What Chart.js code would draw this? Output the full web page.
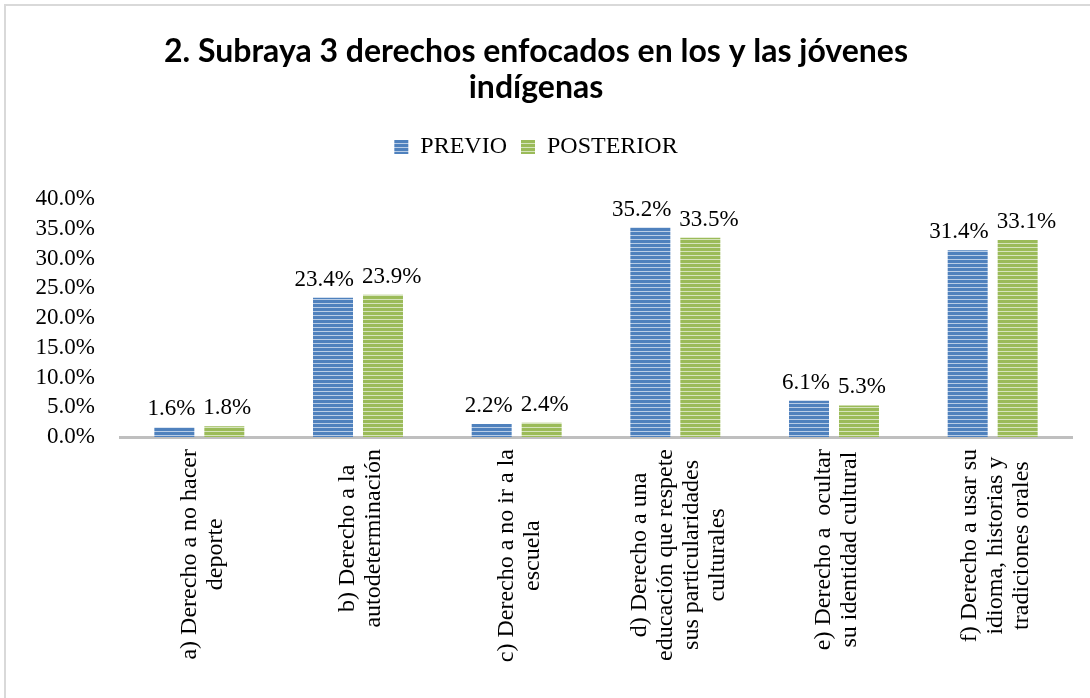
<!DOCTYPE html>
<html>
<head>
<meta charset="utf-8">
<title>Derechos jóvenes indígenas</title>
<script src="https://cdn.jsdelivr.net/npm/chart.js@4.4.1/dist/chart.umd.min.js"></script>
<style>
    html, body { margin: 0; padding: 0; background: #fff; overflow: hidden; }
    #frame { position: absolute; left: 4px; top: 4px; width: 1200px; height: 800px; border: 2px solid #d9d9d9; box-sizing: border-box; }
    #wrap { position: absolute; left: 0; top: 0; width: 1090px; height: 698px; }
</style>
</head>
<body>
<div id="frame"></div>
<div id="wrap"><canvas id="chart1"></canvas></div>
<script>
var categories = [
    ['a) Derecho a no hacer', 'deporte'],
    ['b) Derecho a la', 'autodeterminación'],
    ['c) Derecho a no ir a la', 'escuela'],
    ['d) Derecho a una', 'educación que respete', 'sus particularidades', 'culturales'],
    ['e) Derecho a  ocultar', 'su identidad cultural'],
    ['f) Derecho a usar su', 'idioma, historias y', 'tradiciones orales']
];
var previo = [1.6, 23.4, 2.2, 35.2, 6.1, 31.4];
var posterior = [1.8, 23.9, 2.4, 33.5, 5.3, 33.1];
var yTicks = [0, 5, 10, 15, 20, 25, 30, 35, 40];

var serif = '"Liberation Serif", "Times New Roman", serif';

function stripes(color, light) {
    var c = document.createElement('canvas');
    c.width = 4;
    c.height = 4;
    var g = c.getContext('2d');
    g.fillStyle = color;
    g.fillRect(0, 0, 4, 4);
    g.fillStyle = light;
    g.fillRect(0, 3, 4, 1);
    return g.createPattern(c, 'repeat');
}

// empty box between legend and plot
var spacer = {
    id: 'spacer',
    beforeInit: function(chart) {
        Chart.layouts.addBox(chart, {
            position: 'top', weight: 500, fullSize: true,
            options: {},
            isHorizontal: function() { return true; },
            update: function(maxWidth) { this.width = maxWidth; this.height = 30; },
            draw: function() {}
        });
    }
};

var valueLabels = {
    id: 'valueLabels',
    afterDatasetsDraw: function(chart) {
        var ctx = chart.ctx;
        ctx.save();
        ctx.font = '23px ' + serif;
        ctx.fillStyle = '#000';
        ctx.textAlign = 'center';
        ctx.textBaseline = 'alphabetic';
        var m0 = chart.getDatasetMeta(0), m1 = chart.getDatasetMeta(1);
        for (var i = 0; i < categories.length; i++) {
            var t0 = previo[i].toFixed(1) + '%', t1 = posterior[i].toFixed(1) + '%';
            var w0 = ctx.measureText(t0).width, w1 = ctx.measureText(t1).width;
            var x0 = m0.data[i].x, x1 = m1.data[i].x;
            var overlap = (x0 + w0 / 2) - (x1 - w1 / 2) + 8;
            if (overlap > 0) {
                x0 -= overlap / 2;
                x1 += overlap / 2;
            }
            ctx.fillText(t0, x0, m0.data[i].y - 12);
            ctx.fillText(t1, x1, m1.data[i].y - 12);
        }
        ctx.restore();
    }
};

var xLabels = {
    id: 'xLabels',
    afterDraw: function(chart) {
        var ctx = chart.ctx;
        var xs = chart.scales.x;
        ctx.save();
        ctx.font = '24px ' + serif;
        ctx.fillStyle = '#000';
        ctx.textAlign = 'center';
        ctx.textBaseline = 'middle';
        var lh = 26;
        categories.forEach(function(lines, i) {
            var maxW = 0;
            lines.forEach(function(l) { maxW = Math.max(maxW, ctx.measureText(l).width); });
            ctx.save();
            ctx.translate(xs.getPixelForTick(i) + 3, xs.bottom - 243 + maxW / 2);
            ctx.rotate(-Math.PI / 2);
            lines.forEach(function(l, j) {
                ctx.fillText(l, 0, (j - (lines.length - 1) / 2) * lh);
            });
            ctx.restore();
        });
        ctx.restore();
    }
};

var ctx = document.getElementById('chart1');
var myChart = new Chart(ctx, {
    type: 'bar',
    data: {
        labels: categories,
        datasets: [{
            label: 'PREVIO',
            data: previo,
            backgroundColor: stripes('#4f81bd', '#b9cde6'),
            borderWidth: 0,
            categoryPercentage: 0.63,
            barPercentage: 0.8
        }, {
            label: 'POSTERIOR',
            data: posterior,
            backgroundColor: stripes('#9bbb59', '#d6e4bd'),
            borderWidth: 0,
            categoryPercentage: 0.63,
            barPercentage: 0.8
        }]
    },
    plugins: [spacer, valueLabels, xLabels],
    options: {
        responsive: true,
        maintainAspectRatio: false,
        animation: false,
        layout: {
            padding: { left: 0, right: 18, top: 0, bottom: 6 }
        },
        plugins: {
            title: {
                display: true,
                text: ['2. Subraya 3 derechos enfocados en los y las jóvenes', 'indígenas'],
                color: '#000',
                font: { family: 'Lato, "Open Sans", sans-serif', size: 32, weight: 'bold', lineHeight: 36 / 32 },
                padding: { top: 34, bottom: 15 }
            },
            legend: {
                display: true,
                labels: {
                    color: '#000',
                    font: { family: serif, size: 24 },
                    boxWidth: 14,
                    boxHeight: 14,
                    padding: 14
                }
            },
            tooltip: { enabled: false }
        },
        scales: {
            x: {
                grid: { display: false, drawTicks: false },
                border: { display: true, color: '#bfbfbf', width: 3 },
                ticks: { display: false },
                afterFit: function(scale) { scale.height = 255; }
            },
            y: {
                min: 0,
                max: 40,
                grid: { display: false, drawTicks: false },
                border: { display: false },
                afterBuildTicks: function(scale) {
                    scale.ticks = yTicks.map(function(v) { return { value: v }; });
                },
                afterFit: function(scale) { scale.width = 120; },
                ticks: {
                    autoSkip: false,
                    color: '#000',
                    font: { family: serif, size: 23 },
                    padding: 25,
                    callback: function(v) { return v.toFixed(1) + '%'; }
                }
            }
        }
    }
});
</script>
</body>
</html>
